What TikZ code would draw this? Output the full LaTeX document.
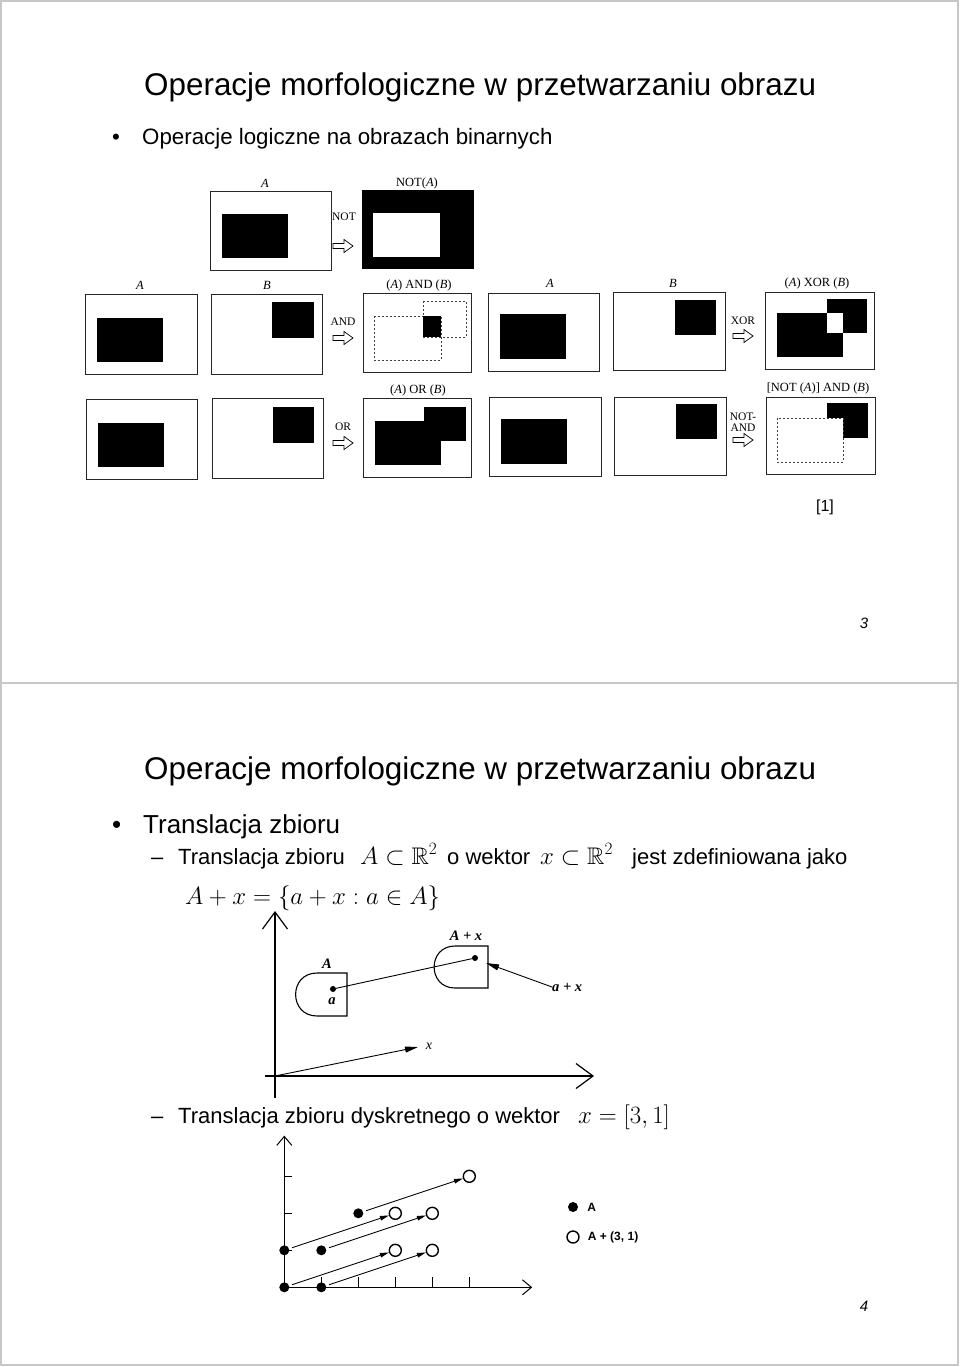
\documentclass[tikz,border=0pt]{standalone}
\usepackage{amsmath,amssymb}
\usepackage{fontspec}
\setmainfont{Liberation Sans}
\newfontfamily\scanrm{Liberation Serif}
\usetikzlibrary{arrows.meta,positioning}

\newcommand{\fs}[1]{\fontsize{#1}{#1}\selectfont}

\tikzset{
  hollowarrow/.pic={
    \draw[line width=0.7pt,fill=white] (-10,-2.5) -- (1,-2.5) -- (1,-6.5) -- (10,0)
      -- (1,6.5) -- (1,2.5) -- (-10,2.5) -- cycle;}
}

\begin{document}
\begin{tikzpicture}[
    x=1pt, y=-1pt,
    inner sep=0pt,
    frameline/.style={draw=black!22, line width=1.6pt},
    slidetitle/.style={anchor=base west, font=\fs{31.4}},
    itemone/.style={anchor=base west, font=\fs{22.3}},
    itembig/.style={anchor=base west, font=\fs{26}},
    itemtwo/.style={anchor=base west, font=\fs{22}},
    formula/.style={anchor=base west, font=\fs{24}},
    pagenum/.style={font=\fs{15}\itshape},
    img/.style={draw=black!85, line width=0.9pt},
    dsh/.style={draw=black!75, line width=0.7pt, dash pattern=on 2pt off 2pt},
    scan/.style={font=\scanrm\fs{12.5}},
    opname/.style={font=\scanrm\fs{11.5}},
    fig/.style={font=\scanrm\bfseries\itshape\fs{14.5}},
    axis/.style={line width=1.2pt, -{Straight Barb[length=17pt,width=25pt]}},
    smallaxis/.style={line width=1pt, -{Straight Barb[length=9pt,width=15pt]}},
    vec/.style={line width=0.9pt, -{Triangle[length=13pt,width=6pt]}},
    smallvec/.style={line width=0.8pt, shorten <=3pt, -{Triangle[length=9pt,width=4.5pt]}},
    dot/.style={circle, fill, minimum size=6pt},
    fdot/.style={circle, fill, minimum size=10pt},
    odot/.style={circle, draw, fill=white, line width=1.4pt, minimum size=12pt}
  ]
  \useasboundingbox (0,0) rectangle (960,1367);

  % page frames
  \draw[frameline] (1,1) rectangle (958,1365);
  \draw[frameline] (1,683) -- (958,683);

  % ---------------- slide 3
  \node[slidetitle] (title3) at (144,96) {Operacje morfologiczne w przetwarzaniu obrazu};
  \node[itemone] (bul3) at (112,145) {•};
  \node[itemone] (item3) at (142,145) {Operacje logiczne na obrazach binarnych};

  % NOT
  \draw[img] (210,191) rectangle (331,270);
  \fill (222,214) rectangle (288,258);
  \node[scan] (lA0) at (265,183) {\textit{A}};
  \node[opname] (opnot) at (344,217) {NOT};
  \pic at (343,246) {hollowarrow};
  \fill (362,190) rectangle (474,269);
  \fill[white] (373,213) rectangle (440,257);
  \node[scan] (lnot) at (417,183) {NOT(\textit{A})};

  % AND
  \draw[img] (85,294) rectangle (197,374);
  \fill (97,318) rectangle (163,362);
  \node[scan] (lA1) at (140,285) {\textit{A}};
  \draw[img] (211,294) rectangle (322,374);
  \fill (272,302) rectangle (314,338);
  \node[scan] (lB1) at (267,285) {\textit{B}};
  \node[opname] (opand) at (343,322) {AND};
  \pic at (343,338) {hollowarrow};
  \draw[img] (363,293) rectangle (471,372);
  \draw[dsh] (374,316) rectangle (441,360);
  \draw[dsh] (423,301) rectangle (466,337);
  \fill (423,316) rectangle (441,337);
  \node[scan] (land) at (419,285) {(\textit{A}) AND (\textit{B})};

  % XOR
  \draw[img] (488,293) rectangle (599,371);
  \fill (500,314) rectangle (566,359);
  \node[scan] (lA2) at (550,283) {\textit{A}};
  \draw[img] (613,292) rectangle (725,370);
  \fill (675,300) rectangle (716,335);
  \node[scan] (lB2) at (673,283) {\textit{B}};
  \node[opname] (opxor) at (743,321) {XOR};
  \pic at (743,336) {hollowarrow};
  \draw[img] (765,292) rectangle (874,369);
  \fill (777,313) rectangle (843,357);
  \fill (827,299) rectangle (867,333);
  \fill[white] (827,313) rectangle (843,333);
  \node[scan] (lxor) at (817,283) {(\textit{A}) XOR (\textit{B})};

  % OR
  \draw[img] (86,399) rectangle (197,479);
  \fill (98,423) rectangle (164,467);
  \draw[img] (212,398) rectangle (323,478);
  \fill (273,407) rectangle (314,443);
  \node[opname] (opor) at (343,427) {OR};
  \pic at (343,443) {hollowarrow};
  \draw[img] (363,398) rectangle (471,477);
  \fill (375,421) rectangle (441,465);
  \fill (424,407) rectangle (466,441);
  \node[scan] (lor) at (418,390) {(\textit{A}) OR (\textit{B})};

  % NOT-AND
  \draw[img] (489,397) rectangle (601,476);
  \fill (501,419) rectangle (567,464);
  \draw[img] (614,397) rectangle (726,475);
  \fill (676,404) rectangle (717,439);
  \node[opname, align=center] (opnand) at (743,422) {NOT-\\[-1pt]AND};
  \pic at (743,440) {hollowarrow};
  \draw[img] (766,397) rectangle (875,474);
  \fill (827,403) rectangle (868,438);
  \draw[dsh, fill=white] (777,418) rectangle (843,462);
  \node[scan] (lnand) at (818,388) {[NOT (\textit{A})] AND (\textit{B})};

  \node[font=\fs{16}] (cite) at (825,507) {[1]};
  \node[pagenum] (p3) at (864,623) {3};

  % ---------------- slide 4
  \node[slidetitle] (title4) at (144,779) {Operacje morfologiczne w przetwarzaniu obrazu};
  \node[itembig] (bul4) at (112,833) {•};
  \node[itembig] (item4) at (143,833) {Translacja zbioru};
  \node[itemtwo] (dash1) at (151,864) {–};
  \node[itemtwo] (sub1) at (178,864) {Translacja zbioru};
  \node[formula] (m1) at (360,864) {$A\subset\mathbb{R}^2$};
  \node[itemtwo] (sub1b) at (447,864) {o wektor};
  \node[formula] (m2) at (540,864) {$x\subset\mathbb{R}^2$};
  \node[itemtwo] (sub1c) at (632,864) {jest zdefiniowana jako};
  \node[formula, font=\fs{25}] (def) at (185,904) {$A+x=\{a+x : a\in A\}$};

  % translation of a set
  \coordinate (o) at (275,1076);
  \draw[axis] (275,1098) -- (275,911);
  \draw[axis] (265,1076) -- (594,1076);
  \draw[line width=1.1pt] (317,973) -- (347,973) -- (347,1016) -- (317,1016)
    to[out=180,in=180,looseness=1.7] (317,973);
  \draw[line width=1.1pt] (455,946) -- (488,946) -- (488,988) -- (455,988)
    to[out=180,in=180,looseness=1.7] (455,946);
  \node[dot] (a) at (333,989) {};
  \node[dot] (ax) at (475,958) {};
  \draw[line width=0.9pt] (a) -- (ax);
  \node[fig] (lA) at (327,964) {A};
  \node[fig] (la) at (332,1001) {a};
  \node[fig] (lAx) at (466,936) {A + x};
  \node[fig, anchor=west] (apx) at (552,987) {a + x};
  \coordinate (tip) at (486,963);
  \draw[vec] (apx.west) -- (tip);
  \coordinate (xend) at (418,1047);
  \draw[vec] (o) -- (xend);
  \node[fig, font=\scanrm\itshape\fs{14}] (lx) at (429,1046) {x};

  \node[itemtwo] (dash2) at (151,1123) {–};
  \node[itemtwo] (sub2) at (178,1123) {Translacja zbioru dyskretnego o wektor};
  \node[formula, font=\fs{25}] (m3) at (578,1123) {$x=[3,1]$};

  % discrete translation
  \begin{scope}[shift={(284.3,1287.3)}, x=37pt, y=37pt]
    \draw[smallaxis] (0,0) -- (0,4.1);
    \draw[smallaxis] (0,0) -- (6.7,0);
    \foreach \i in {1,...,5}
      \draw[line width=0.8pt] (\i,0) -- (\i,0.27);
    \foreach \j in {1,2,3}
      \draw[line width=0.8pt] (0,\j) -- (0.22,\j);
    \foreach \x/\y in {0/0,1/0,0/1,1/1,2/2} {
      \node[fdot] (a\x\y) at (\x,\y) {};
      \node[odot] (b\x\y) at (\x+3,\y+1) {};
      \draw[smallvec] (a\x\y) -- (b\x\y);
    }
  \end{scope}
  \node[fdot] (keyA) at (573,1207) {};
  \node[font=\fs{12}\bfseries, right=9pt of keyA] (keyAt) {A};
  \node[odot] (keyB) at (573,1237) {};
  \node[font=\fs{12}\bfseries, right=8pt of keyB] (keyBt) {A + (3, 1)};

  \node[pagenum] (p4) at (864,1306) {4};
\end{tikzpicture}
\end{document}
